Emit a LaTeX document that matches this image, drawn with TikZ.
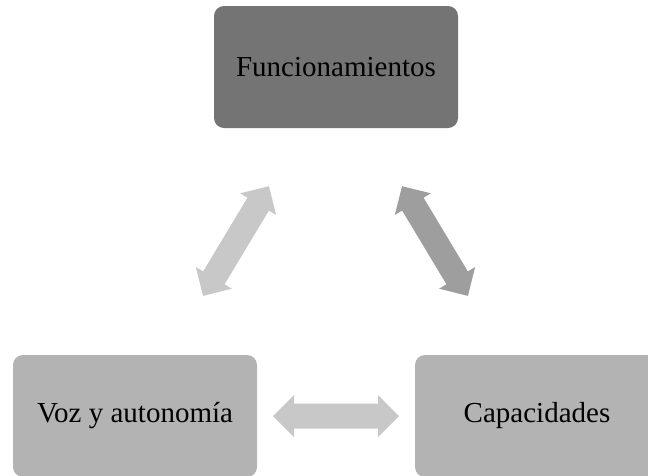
\documentclass[tikz,border=0pt]{standalone}
\usepackage{fontspec}
\setmainfont{Liberation Serif}
\definecolor{topgray}{HTML}{747474}
\definecolor{boxgray}{HTML}{B3B3B3}
\definecolor{arrlight}{HTML}{C8C8C8}
\definecolor{arrdark}{HTML}{9E9E9E}
\tikzset{
  box/.style={rectangle, rounded corners=10pt, minimum width=244pt, minimum height=122pt,
    inner sep=0pt, text=black, font=\fontsize{29}{34}\selectfont}
}
\newcommand{\myDblArrow}[4]{%
  \begin{scope}[shift={(#1)},rotate=#2]
    \fill[#4] (-#3,0) -- (-#3+21,21) -- (-#3+21,12.5) -- (#3-21,12.5) -- (#3-21,21)
      -- (#3,0) -- (#3-21,-21) -- (#3-21,-12.5) -- (-#3+21,-12.5) -- (-#3+21,-21) -- cycle;
  \end{scope}}
\begin{document}
\begin{tikzpicture}[x=1pt,y=-1pt]
\clip (0,0) rectangle (648,475);
\fill[white] (0,0) rectangle (648,475);
\node[box, fill=topgray] (func) at (336,67) {Funcionamientos};
\node[box, fill=boxgray] (voz) at (135,416) {Voz y autonomía};
\node[box, fill=boxgray] (cap) at (537,416) {Capacidades};
\coordinate (a1) at (236,241);
\coordinate (a2) at (435,241);
\coordinate (a3) at (336,416);
\myDblArrow{a1}{59}{64}{arrlight}
\myDblArrow{a2}{-59}{64}{arrdark}
\myDblArrow{a3}{0}{63}{arrlight}
\end{tikzpicture}
\end{document}
